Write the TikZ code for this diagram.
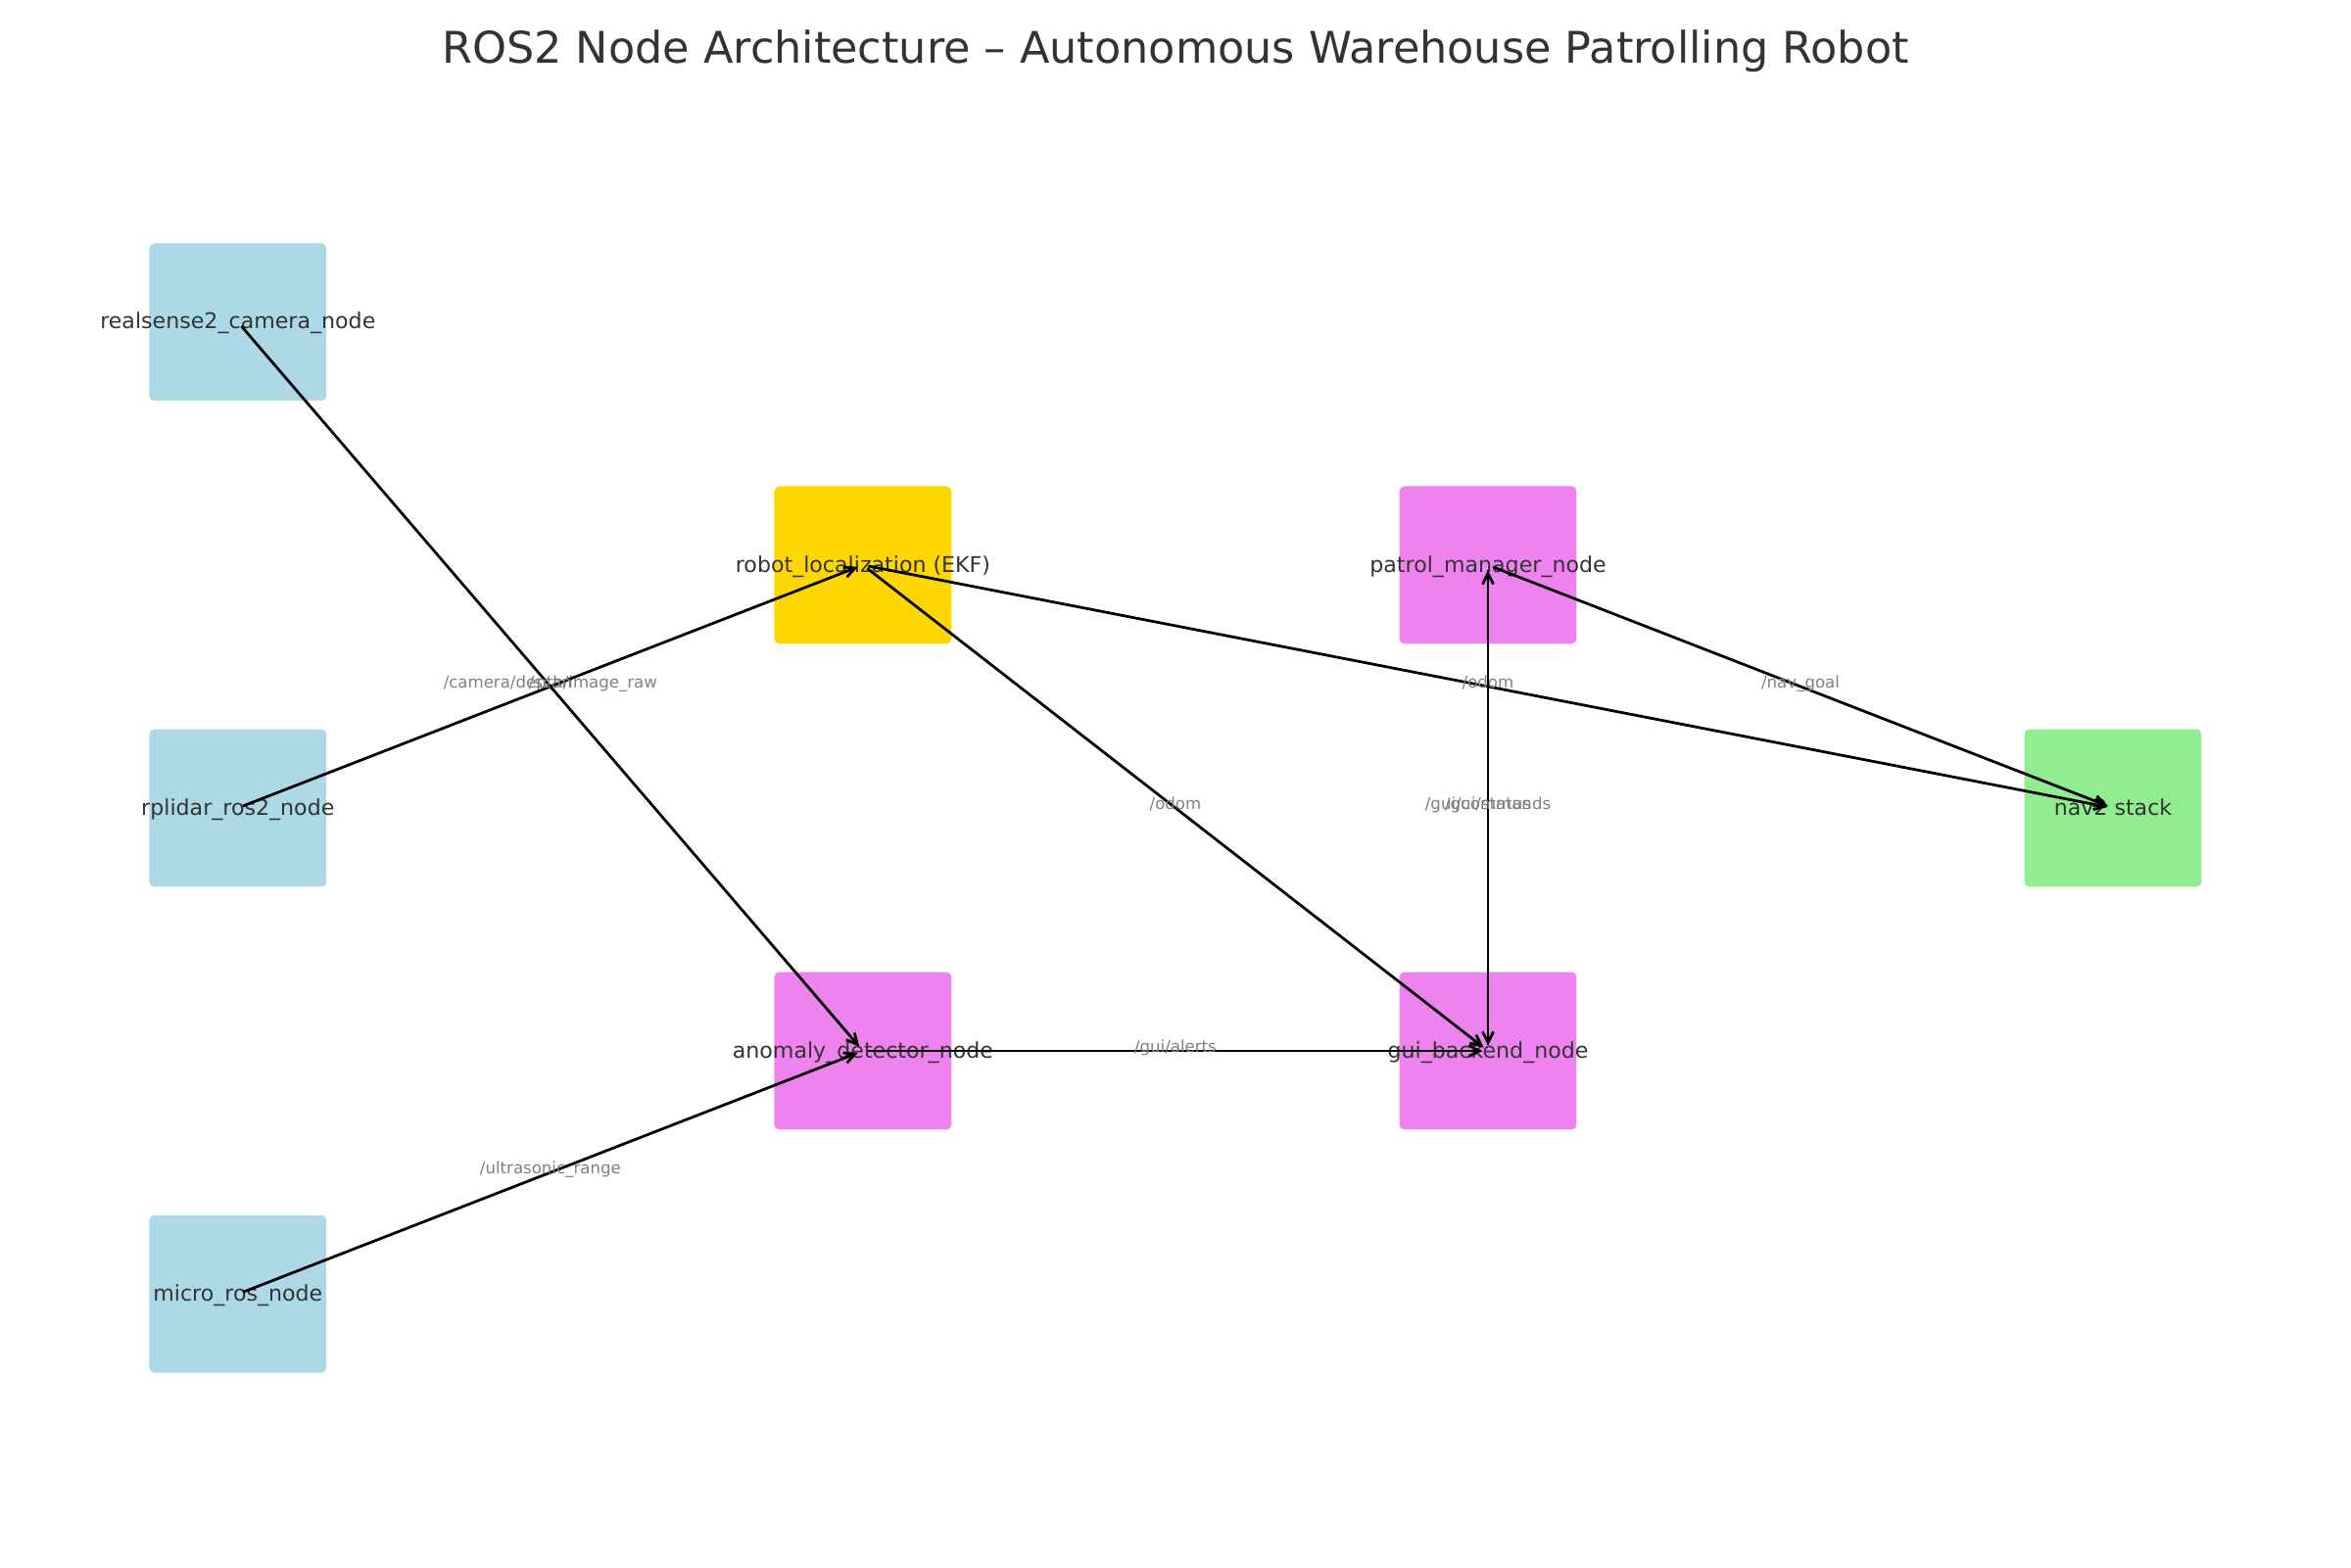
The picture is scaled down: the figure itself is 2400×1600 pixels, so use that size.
\documentclass[tikz,border=0pt]{standalone}
\usepackage{fontspec}
\setmainfont{DejaVu Sans}
\usetikzlibrary{arrows.meta}

\definecolor{lightblue}{HTML}{ADD8E6}
\definecolor{gold}{HTML}{FFD700}
\definecolor{violet}{HTML}{EE82EE}
\definecolor{lightgreen}{HTML}{90EE90}
\definecolor{darktext}{HTML}{333333}

\begin{document}
\begin{tikzpicture}[x=0.005in, y=-0.005in,
    rosnode/.style={rectangle, rounded corners=1.8pt, inner sep=0pt,
        minimum width=0.905in, minimum height=0.805in},
    rostext/.style={font=\fontsize{8}{9.6}\selectfont, text=darktext,
        text height=0.76em, text depth=0.24em},
    topic/.style={-{Straight Barb[length=4pt,width=4pt]}, line width=1pt,
        shorten >=2pt, shorten <=2pt},
    topicname/.style={font=\fontsize{6}{7.2}\selectfont, text=gray,
        text height=0.76em, text depth=0.24em, yshift=2pt}]
\useasboundingbox (0,0) rectangle (2400,1600);

    \node[font=\fontsize{16.1}{19}\selectfont, text=darktext, anchor=base] (title) at (1200, 64)
        {ROS2 Node Architecture – Autonomous Warehouse Patrolling Robot};

    % sensors
    \node[rosnode, fill=lightblue, label={[rostext]center:realsense2\_camera\_node}] (camera) at (242.8, 328.8) {};
    \node[rosnode, fill=lightblue, label={[rostext]center:rplidar\_ros2\_node}] (lidar) at (242.8, 825) {};
    \node[rosnode, fill=lightblue, label={[rostext]center:micro\_ros\_node}] (microros) at (242.8, 1321.3) {};

    % processing
    \node[rosnode, fill=gold, label={[rostext]center:robot\_localization (EKF)}] (ekf) at (880.9, 576.9) {};
    \node[rosnode, fill=violet, label={[rostext]center:anomaly\_detector\_node}] (anomaly) at (880.9, 1073) {};
    \node[rosnode, fill=violet, label={[rostext]center:patrol\_manager\_node}] (patrol) at (1519, 576.9) {};
    \node[rosnode, fill=violet, label={[rostext]center:gui\_backend\_node}] (gui) at (1519, 1073) {};
    \node[rosnode, fill=lightgreen, label={[rostext]center:nav2 stack}] (nav) at (2157, 825) {};

    % topics
    \draw[topic] (camera.center) -- (anomaly.center) node[topicname, midway] {/camera/depth/image\_raw};
    \draw[topic] (lidar.center) -- (ekf.center) node[topicname, midway] {/scan};
    \draw[topic] (microros.center) -- (anomaly.center) node[topicname, midway] {/ultrasonic\_range};
    \draw[topic] (ekf.center) -- (gui.center) node[topicname, midway] {/odom};
    \draw[topic] (ekf.center) -- (nav.center) node[topicname, midway] {/odom};
    \draw[topic] (patrol.center) -- (nav.center) node[topicname, midway] {/nav\_goal};
    \draw[topic] (anomaly.center) -- (gui.center) node[topicname, midway] {/gui/alerts};
    \draw[topic] (patrol.center) -- (gui.center) node[topicname, midway] {/gui/status};
    \draw[topic] (gui.center) -- (patrol.center) node[topicname, midway] {/gui/commands};
\end{tikzpicture}
\end{document}
